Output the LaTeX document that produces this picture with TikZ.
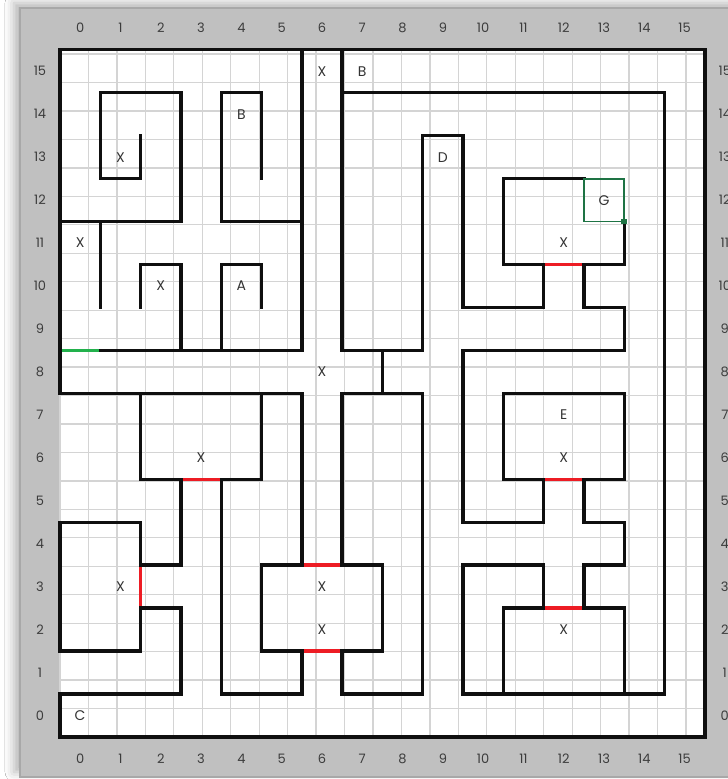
\documentclass[tikz,border=0pt]{standalone}
\usepackage{fontspec}
\setmainfont{Poppins}
\usetikzlibrary{shadows.blur}
\definecolor{ink}{RGB}{15,15,15}
\definecolor{panel}{RGB}{192,192,192}
\definecolor{rim}{RGB}{168,168,168}
\definecolor{gridln}{RGB}{212,212,212}
\definecolor{doorred}{RGB}{237,28,36}
\definecolor{entrygrn}{RGB}{34,177,76}
\definecolor{goalgrn}{RGB}{30,115,68}
\definecolor{lbl}{RGB}{60,60,60}
\tikzset{
  wall/.style={line width=3.4pt,draw=ink,line cap=rect,line join=miter},
  door/.style={line width=3.4pt,draw=doorred},
  entry/.style={line width=3.4pt,draw=entrygrn},
  goalbox/.style={line width=1.8pt,draw=goalgrn},
  axlbl/.style={font=\fontsize{13}{15}\selectfont,text=lbl,inner sep=0pt},
  cellt/.style={font=\fontsize{14}{16}\selectfont,text=ink!85,inner sep=0pt},
}

\begin{document}
\begin{tikzpicture}[x=40.3pt,y=42.95pt]
\useasboundingbox (-60pt,-42pt) rectangle (668pt,737pt);
% ---- frame ----
\fill[white] (-60pt,-42pt) rectangle (668pt,737pt);
\path[fill=panel,draw=rim,line width=1.5pt,
  blur shadow={shadow xshift=-6pt,shadow yshift=5pt,shadow blur radius=9pt,shadow opacity=30}]
  (-40pt,-40pt) rectangle (700pt,729pt);
\fill[white] (0,0) rectangle (16,16);
\draw[gridln,line width=1.3pt] (0,0) grid (16,16);

% ---- axis numbers ----
\foreach \i in {0,...,15} {
  \node[axlbl,yshift=22pt] (top\i) at (\i+.5,16) {\i};
  \node[axlbl,yshift=-22pt] (bot\i) at (\i+.5,0) {\i};
  \node[axlbl,xshift=-20pt] (lft\i) at (0,\i+.5) {\i};
  \node[axlbl,xshift=20pt] (rgt\i) at (16,\i+.5) {\i};
}

% ---- doors and entry ----
\draw[door] (12,11) -- (13,11);
\draw[door] (12,6) -- (13,6);
\draw[door] (12,3) -- (13,3);
\draw[door] (3,6) -- (4,6);
\draw[door] (2,3) -- (2,4);
\draw[door] (6,4) -- (7,4);
\draw[door] (6,2) -- (7,2);
\draw[entry] (0,9) -- (1,9);

% ---- outer wall and long runs ----
\draw[wall] (2,3) -- (3,3) -- (3,1) -- (0,1) -- (0,0) -- (16,0) -- (16,16) -- (0,16) -- (0,8)
  -- (6,8) -- (6,4);
\draw[wall] (7,4) -- (7,8) -- (9,8) -- (9,1) -- (7,1) -- (7,2);

% ---- upper left ----
\draw[wall] (2,14) -- (2,13) -- (1,13) -- (1,15) -- (3,15) -- (3,12) -- (0,12);
\draw[wall] (1,12) -- (1,10);
\draw[wall] (2,10) -- (2,11) -- (3,11) -- (3,9);
\draw[wall] (1,9) -- (6,9) -- (6,16);
\draw[wall] (4,9) -- (4,11) -- (5,11) -- (5,10);
\draw[wall] (5,13) -- (5,15) -- (4,15) -- (4,12) -- (6,12);

% ---- upper right ----
\draw[wall] (7,16) -- (7,9) -- (9,9) -- (9,14) -- (10,14) -- (10,10) -- (12,10) -- (12,11)
  -- (11,11) -- (11,13) -- (13,13);
\draw[wall] (8,9) -- (8,8);
\draw[wall] (7,15) -- (15,15) -- (15,1) -- (10,1) -- (10,4) -- (12,4) -- (12,3) -- (11,3) -- (11,1);
\draw[wall] (14,12) -- (14,11) -- (13,11) -- (13,10) -- (14,10) -- (14,9) -- (10,9) -- (10,5)
  -- (12,5) -- (12,6) -- (11,6) -- (11,8) -- (14,8) -- (14,6) -- (13,6) -- (13,5) -- (14,5)
  -- (14,4) -- (13,4) -- (13,3) -- (14,3) -- (14,1);

% ---- lower left ----
\draw[wall] (2,8) -- (2,6) -- (3,6) -- (3,4) -- (2,4) -- (2,5) -- (0,5) -- (0,2) -- (2,2) -- (2,3);
\draw[wall] (5,8) -- (5,6) -- (4,6) -- (4,1) -- (6,1) -- (6,2) -- (5,2) -- (5,4) -- (6,4);
\draw[wall] (7,4) -- (8,4) -- (8,2) -- (7,2);

% ---- goal cell ----
\draw[goalbox] (13,12) rectangle (14,13);
\fill[goalgrn] (14,12) ++(-2.8pt,-2.8pt) rectangle ++(5.6pt,5.6pt);

% ---- cell letters ----
\foreach \c/\r/\t [count=\k] in {6/15/X,7/15/B,4/14/B,1/13/X,9/13/D,13/12/G,0/11/X,12/11/X,
    2/10/X,4/10/A,6/8/X,12/7/E,3/6/X,12/6/X,1/3/X,6/3/X,6/2/X,12/2/X,0/0/C}
  \node[cellt] (cell\k) at (\c+.5,\r+.5) {\t};
\end{tikzpicture}
\end{document}
